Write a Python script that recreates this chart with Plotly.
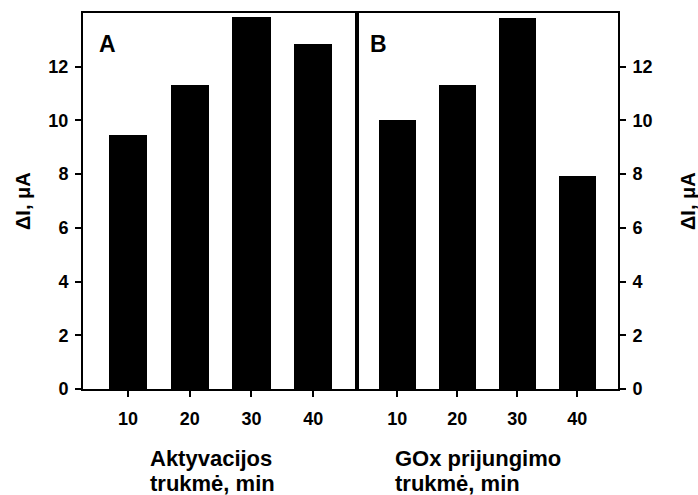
import plotly.graph_objects as go

# Response current vs. duration of each preparation step
minutes = [10, 20, 30, 40]
delta_i_activation = [9.44, 11.33, 13.86, 12.84]   # panel A
delta_i_gox = [10.03, 11.33, 13.83, 7.92]          # panel B
y_ticks = [0, 2, 4, 6, 8, 10, 12]
panel_labels = ["A", "B"]
x_titles = [["Aktyvacijos", "trukmė, min"], ["GOx prijungimo", "trukmė, min"]]
y_title = "ΔI, μA"

FONT = "Liberation Sans, Arial, sans-serif"
W, H = 698, 495
L, R, T, B = 83, 80, 13, 106
PH = H - T - B
split = (357 - L) / (W - L - R)


def py(pix):
    """Convert a pixel row to paper y."""
    return (H - B - pix) / PH


def px(pix):
    """Convert a pixel column to paper x."""
    return (pix - L) / (W - L - R)


fig = go.Figure()
fig.add_trace(go.Bar(x=minutes, y=delta_i_activation, width=6.2,
                     marker=dict(color="black", line=dict(width=0)),
                     xaxis="x", yaxis="y", showlegend=False))
fig.add_trace(go.Bar(x=minutes, y=delta_i_gox, width=6.2,
                     marker=dict(color="black", line=dict(width=0)),
                     xaxis="x2", yaxis="y2", showlegend=False))

tick_font = dict(family=FONT, size=18, color="black", weight="bold")
axis_common = dict(showgrid=False, zeroline=False, showline=True, linecolor="black",
                   linewidth=2, mirror=True, ticks="outside", ticklen=6, tickwidth=2,
                   tickcolor="black", tickfont=tick_font)

x_ticktext = [f"<b>{m}</b>" for m in minutes]
y_ticktext = [f"<b>{v}</b>" for v in y_ticks]

fig.update_layout(
    width=W, height=H, margin=dict(l=L, r=R, t=T, b=B),
    paper_bgcolor="white", plot_bgcolor="white", bargap=0,
    xaxis=dict(domain=[0, split], range=[2.7, 47.1], tickvals=minutes, ticktext=x_ticktext,
               ticklabelstandoff=6, anchor="y", **axis_common),
    xaxis2=dict(domain=[split, 1], range=[3.3, 46.8], tickvals=minutes, ticktext=x_ticktext,
                ticklabelstandoff=6, anchor="y2", **axis_common),
    yaxis=dict(range=[0, 14], tickvals=y_ticks, ticktext=y_ticktext, ticklabelstandoff=3,
               anchor="x", side="left", **axis_common),
    yaxis2=dict(range=[0, 14], tickvals=y_ticks, ticktext=y_ticktext, ticklabelstandoff=3,
                anchor="x2", side="right", **axis_common),
)

annotations = []
# panel letters
for label, xpix in [(panel_labels[0], 97), (panel_labels[1], 368)]:
    annotations.append(dict(xref="paper", yref="paper", x=px(xpix), y=py(44), text=f"<b>{label}</b>",
                            showarrow=False, xanchor="left", yanchor="middle",
                            font=dict(family=FONT, size=23, color="black", weight="bold")))
# x-axis titles (left-aligned two-line blocks)
for lines, xpix in [(x_titles[0], 148), (x_titles[1], 393)]:
    for line, ypix in zip(lines, [458, 483]):
        annotations.append(dict(xref="paper", yref="paper", x=px(xpix), y=py(ypix),
                                text=f"<b>{line}</b>", showarrow=False,
                                xanchor="left", yanchor="middle",
                                font=dict(family=FONT, size=22, color="black", weight="bold")))
# y-axis titles on both sides
for xpix in [23, 688]:
    annotations.append(dict(xref="paper", yref="paper", x=px(xpix), y=0.5,
                            text=f"<b>{y_title}</b>", textangle=-90, showarrow=False,
                            xanchor="center", yanchor="middle",
                            font=dict(family=FONT, size=20, color="black", weight="bold")))
fig.update_layout(annotations=annotations)

fig.write_html("out.html")
